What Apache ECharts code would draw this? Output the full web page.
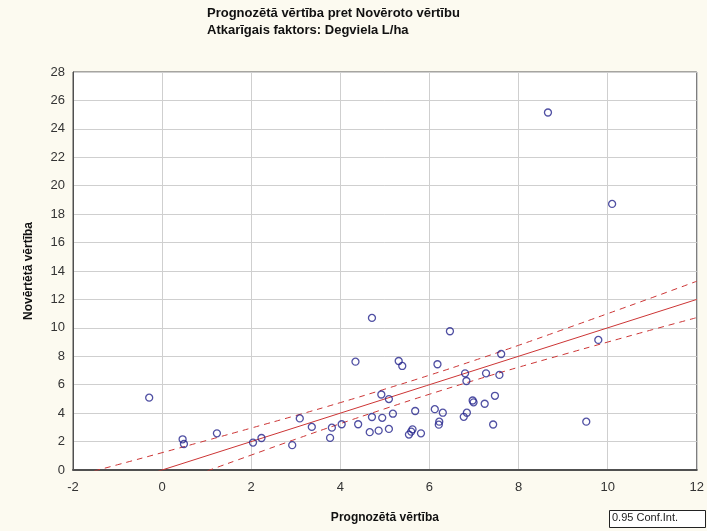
<!DOCTYPE html>
<html>
<head>
<meta charset="utf-8">
<script src="https://cdn.jsdelivr.net/npm/echarts@6/dist/echarts.min.js"></script>
<style>
  html, body { margin: 0; padding: 0; background: #fcfaf0; }
  #chart { width: 707px; height: 531px; }
</style>
</head>
<body>
<div id="chart"></div>
<script>
// Predicted vs observed fuel use (L/ha), one point per observation
const predicted = [
  -0.29, 0.46, 0.49, 1.23, 2.04, 2.23, 2.92, 3.09, 3.36, 3.77,
  3.81, 4.03, 4.40, 4.34, 4.71, 4.66, 4.71, 4.86, 4.94, 4.92,
  5.09, 5.09, 5.18, 5.31, 5.39, 5.54, 5.59, 5.62, 5.68, 5.81,
  6.12, 6.18, 6.30, 6.22, 6.21, 6.46, 6.77, 6.84, 6.80, 6.83,
  6.97, 6.99, 7.24, 7.27, 7.47, 7.43, 7.57, 7.61, 8.66, 9.52,
  9.79, 10.10
];
const observed = [
  5.09, 2.16, 1.83, 2.58, 1.93, 2.25, 1.75, 3.63, 3.03, 2.26,
  2.98, 3.22, 3.22, 7.62, 10.70, 2.66, 3.73, 2.77, 3.67, 5.31,
  4.99, 2.89, 3.96, 7.67, 7.32, 2.49, 2.70, 2.86, 4.15, 2.58,
  4.28, 7.44, 4.03, 3.40, 3.19, 9.76, 3.74, 4.03, 6.80, 6.26,
  4.89, 4.76, 4.66, 6.80, 5.22, 3.20, 6.69, 8.16, 25.15, 3.40,
  9.15, 18.72
];

// Fitted line and its 0.95 confidence band
const fitX = [-2, 12];
const fitY = [-2, 12];
const bandX = [-2, -1, 0, 1, 2, 3, 4, 5, 6, 7, 8, 9, 10, 11, 12];
const bandUpper = [-0.47, 0.37, 1.22, 2.08, 2.95, 3.83, 4.74, 5.69, 6.67, 7.70, 8.77, 9.88, 11.00, 12.13, 13.28];
const bandLower = [-3.53, -2.37, -1.22, -0.08, 1.05, 2.17, 3.26, 4.31, 5.33, 6.30, 7.23, 8.12, 9.00, 9.87, 10.72];

const titleLines = ['Prognozētā vērtība pret Novēroto vērtību', 'Atkarīgais faktors: Degviela L/ha'];
const xName = 'Prognozētā vērtība';
const yName = 'Novērtētā vērtība';
const legendText = '0.95 Conf.Int.';

const zip = (a, b) => a.map((v, i) => [v, b[i]]);
const font = '"Liberation Sans", Arial, sans-serif';
const red = '#cc3535';

const chart = echarts.init(document.getElementById('chart'));
chart.setOption({
  backgroundColor: '#fcfaf0',
  animation: false,
  title: {
    text: titleLines.join('\n'),
    left: 202,
    top: 0,
    textStyle: { fontFamily: font, fontSize: 13, fontWeight: 'bold', color: '#111', lineHeight: 17 }
  },
  grid: {
    left: 73, right: 9, top: 72, bottom: 61,
    show: true, backgroundColor: '#ffffff', borderColor: '#505050', borderWidth: 1
  },
  xAxis: {
    type: 'value', min: -2, max: 12, interval: 2,
    name: xName, nameLocation: 'middle', nameGap: 42,
    nameTextStyle: { fontFamily: font, fontSize: 12, fontWeight: 'bold', color: '#111' },
    axisLine: { show: true, onZero: false, lineStyle: { color: '#505050', width: 2 } },
    axisTick: { show: false },
    axisLabel: { fontFamily: font, fontSize: 13, color: '#333', margin: 11 },
    splitLine: { show: true, lineStyle: { color: '#cfcfcf', width: 1 } }
  },
  yAxis: {
    type: 'value', min: 0, max: 28, interval: 2,
    name: yName, nameLocation: 'middle', nameGap: 38,
    nameTextStyle: { fontFamily: font, fontSize: 12, fontWeight: 'bold', color: '#111' },
    axisLine: { show: true, onZero: false, lineStyle: { color: '#505050', width: 1 } },
    axisTick: { show: false },
    axisLabel: { fontFamily: font, fontSize: 13, color: '#333', margin: 8 },
    splitLine: { show: true, lineStyle: { color: '#cfcfcf', width: 1 } }
  },
  series: [
    {
      type: 'line', data: zip(bandX, bandUpper), smooth: true,
      symbol: 'none', clip: true,
      lineStyle: { color: red, width: 1, type: [6, 5] }, z: 3
    },
    {
      type: 'line', data: zip(bandX, bandLower), smooth: true,
      symbol: 'none', clip: true,
      lineStyle: { color: red, width: 1, type: [6, 5] }, z: 3
    },
    {
      type: 'line', data: zip(fitX, fitY),
      symbol: 'none', clip: true,
      lineStyle: { color: red, width: 1 }, z: 3
    },
    {
      type: 'scatter', data: zip(predicted, observed),
      symbol: 'circle', symbolSize: 7, clip: true,
      itemStyle: { color: 'rgba(255,255,255,0)', borderColor: '#24248c', borderWidth: 1.3 }, z: 4
    }
  ],
  graphic: [
    {
      type: 'rect', left: 609, top: 510,
      shape: { width: 96, height: 17 },
      style: { fill: '#ffffff', stroke: '#222', lineWidth: 1 }
    },
    {
      type: 'text', left: 612, top: 512,
      style: { text: legendText, font: '11px ' + font, fill: '#222' }
    }
  ]
});
</script>
</body>
</html>
